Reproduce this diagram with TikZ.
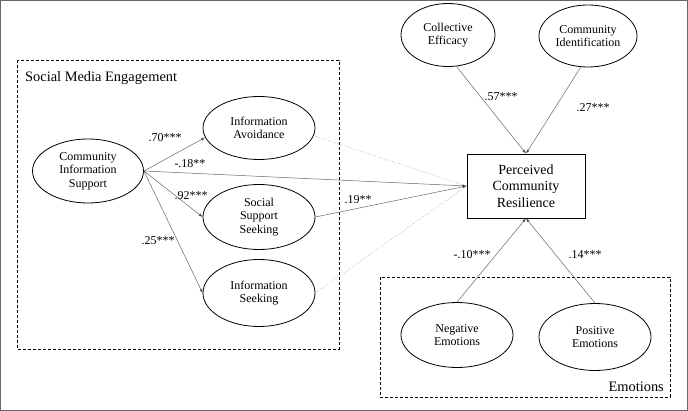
\documentclass[tikz,border=0pt]{standalone}
\usepackage{fontspec}
\setmainfont{Liberation Serif}
\usetikzlibrary{shapes.geometric,arrows.meta}
\begin{document}
\begin{tikzpicture}[x=1pt,y=-1pt,
  ell/.style={ellipse,draw,line width=0.8pt,inner sep=0pt,align=center,
    font=\fontsize{12}{13.5}\selectfont},
  lbl/.style={inner sep=0pt,font=\fontsize{12}{14}\selectfont},
  grp/.style={draw,dashed,line width=0.6pt,dash pattern=on 3pt off 2pt},
  grptitle/.style={inner sep=0pt,font=\fontsize{14.4}{16}\selectfont},
  arr/.style={draw=black!60,line width=0.5pt,-{Latex[length=4pt,width=3pt,fill=black]}},
  dotarr/.style={draw=black!55,line width=0.5pt,dotted}]
\useasboundingbox (0,0) rectangle (688,411);
\draw[black!60,line width=0.8pt] (0.5,0.5) rectangle (687.5,410.5);
% group boxes
\draw[grp] (17,60) rectangle (339,349);
\node[grptitle,anchor=west] (smetitle) at (25,78) {Social Media Engagement};
\draw[grp] (380,277) rectangle (670,397);
\node[grptitle,anchor=east] (emotitle) at (664,387) {Emotions};
% nodes
\node[ell,minimum width=111,minimum height=64] (cis) at (88,171) {Community\\Information\\Support};
\node[ell,minimum width=112,minimum height=63] (ia) at (259,128) {Information\\Avoidance};
\node[ell,minimum width=112,minimum height=65] (sss) at (259,217) {Social\\Support\\Seeking};
\node[ell,minimum width=112,minimum height=67] (is) at (259,293) {Information\\Seeking};
\node[draw,line width=0.8pt,minimum width=118,minimum height=64,inner sep=0pt,align=center,
  font=\fontsize{14}{16.7}\selectfont] (pcr) at (526,186) {Perceived\\Community\\Resilience};
\node[ell,minimum width=94,minimum height=63] (ce) at (448,35) {Collective\\Efficacy};
\node[ell,minimum width=98,minimum height=62] (ci) at (588,36) {Community\\Identification};
\node[ell,minimum width=112,minimum height=65] (ne) at (457,335) {Negative\\Emotions};
\node[ell,minimum width=112,minimum height=67] (pe) at (595,337) {Positive\\Emotions};
% connectors
\draw[arr] (cis.east) -- (ia.-170);
\draw[arr] (cis.east) -- (sss.west);
\draw[arr] (cis.east) -- (is.west);
\draw[arr] (cis.east) -- (pcr.west);
\draw[dotarr] (ia.-8) -- (pcr.west);
\draw[arr] (sss.east) -- (pcr.west);
\draw[dotarr] (is.east) -- (pcr.west);
\draw[arr] (ce.-75) -- (pcr.north);
\draw[arr] (ci.-103) -- (pcr.north);
\draw[arr] (ne.north) -- (pcr.south);
\draw[arr] (pe.north) -- (pcr.south);
% labels
\node[lbl] (l70) at (165,138) {.70***};
\node[lbl] (l18) at (190,164) {-.18**};
\node[lbl] (l92) at (191,196) {.92***};
\node[lbl] (l25) at (158,241) {.25***};
\node[lbl] (l19) at (358,200) {.19**};
\node[lbl] (l57) at (501,97) {.57***};
\node[lbl] (l27) at (593,108) {.27***};
\node[lbl] (l10) at (472,255) {-.10***};
\node[lbl] (l14) at (585,255) {.14***};
\end{tikzpicture}
\end{document}
